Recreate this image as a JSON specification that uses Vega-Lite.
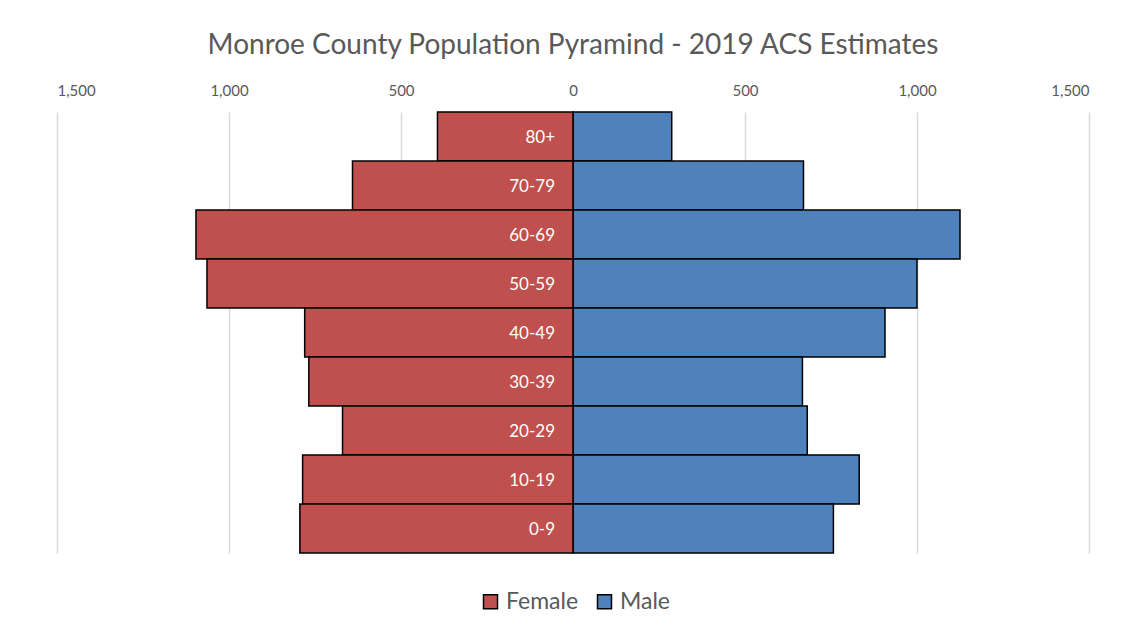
{
  "$schema": "https://vega.github.io/schema/vega-lite/v6.json",
  "width": 1032,
  "height": 441,
  "autosize": {"type": "none"},
  "padding": {"left": 57, "top": 112, "right": 52, "bottom": 82},
  "background": "white",
  "config": {
    "font": "Lato",
    "view": {"stroke": null}
  },
  "title": {
    "text": "Monroe County Population Pyramind - 2019 ACS Estimates",
    "fontSize": 28,
    "fontWeight": "normal",
    "color": "#595959",
    "font": "Lato",
    "anchor": "middle",
    "offset": 23
  },
  "data": {
    "values": [
      {"age": "80+", "sex": "Female", "population": 394},
      {"age": "70-79", "sex": "Female", "population": 641},
      {"age": "60-69", "sex": "Female", "population": 1096},
      {"age": "50-59", "sex": "Female", "population": 1064},
      {"age": "40-49", "sex": "Female", "population": 780},
      {"age": "30-39", "sex": "Female", "population": 768},
      {"age": "20-29", "sex": "Female", "population": 670},
      {"age": "10-19", "sex": "Female", "population": 786},
      {"age": "0-9", "sex": "Female", "population": 794},
      {"age": "80+", "sex": "Male", "population": 287},
      {"age": "70-79", "sex": "Male", "population": 670},
      {"age": "60-69", "sex": "Male", "population": 1125},
      {"age": "50-59", "sex": "Male", "population": 1000},
      {"age": "40-49", "sex": "Male", "population": 907},
      {"age": "30-39", "sex": "Male", "population": 667},
      {"age": "20-29", "sex": "Male", "population": 681},
      {"age": "10-19", "sex": "Male", "population": 832},
      {"age": "0-9", "sex": "Male", "population": 757}
    ]
  },
  "encoding": {
    "y": {
      "field": "age",
      "type": "nominal",
      "sort": ["80+", "70-79", "60-69", "50-59", "40-49", "30-39", "20-29", "10-19", "0-9"],
      "scale": {"paddingInner": 0, "paddingOuter": 0},
      "axis": null
    }
  },
  "layer": [
    {
      "transform": [{"filter": "datum.sex === 'Male'"}],
      "mark": {"type": "bar", "stroke": "black", "strokeWidth": 1.5},
      "encoding": {
        "x": {
          "field": "population",
          "type": "quantitative",
          "scale": {"domain": [-1500, 1500], "nice": false},
          "axis": {
            "orient": "top",
            "values": [-1500, -1000, -500, 0, 500, 1000, 1500],
            "labelExpr": "format(abs(datum.value), ',')",
            "grid": true,
            "gridColor": "#d9d9d9",
            "gridWidth": 1.5,
            "domain": false,
            "ticks": false,
            "labelPadding": 14,
            "labelFontSize": 15,
            "labelColor": "#595959",
            "labelFont": "Lato",
            "title": null
          }
        },
        "color": {
          "field": "sex",
          "type": "nominal",
          "scale": {"domain": ["Female", "Male"], "range": ["#C0504D", "#4F81BD"]},
          "legend": {
            "orient": "none",
            "legendX": 422,
            "legendY": 478,
            "direction": "horizontal",
            "title": null,
            "symbolType": "square",
            "symbolSize": 196,
            "symbolStrokeColor": "black",
            "symbolStrokeWidth": 1.5,
            "symbolOpacity": 1,
            "labelFontSize": 23,
            "labelColor": "#595959",
            "labelFont": "Lato",
            "labelOffset": 4,
            "columnPadding": 14
          }
        }
      }
    },
    {
      "transform": [{"filter": "datum.sex === 'Female'"}],
      "mark": {"type": "bar", "stroke": "black", "strokeWidth": 1.5},
      "encoding": {
        "x": {
          "field": "population",
          "type": "quantitative",
          "scale": {"domain": [-1500, 1500], "nice": false, "reverse": true},
          "axis": null
        },
        "color": {"field": "sex", "type": "nominal"}
      }
    },
    {
      "transform": [{"filter": "datum.sex === 'Female'"}],
      "mark": {"type": "text", "align": "right", "baseline": "middle", "dx": -18, "dy": 1, "color": "white", "fontSize": 17, "font": "Lato"},
      "encoding": {
        "x": {"datum": 0, "type": "quantitative", "scale": {"domain": [-1500, 1500], "nice": false}, "axis": null},
        "text": {"field": "age"}
      }
    }
  ],
  "resolve": {"scale": {"x": "independent"}}
}
